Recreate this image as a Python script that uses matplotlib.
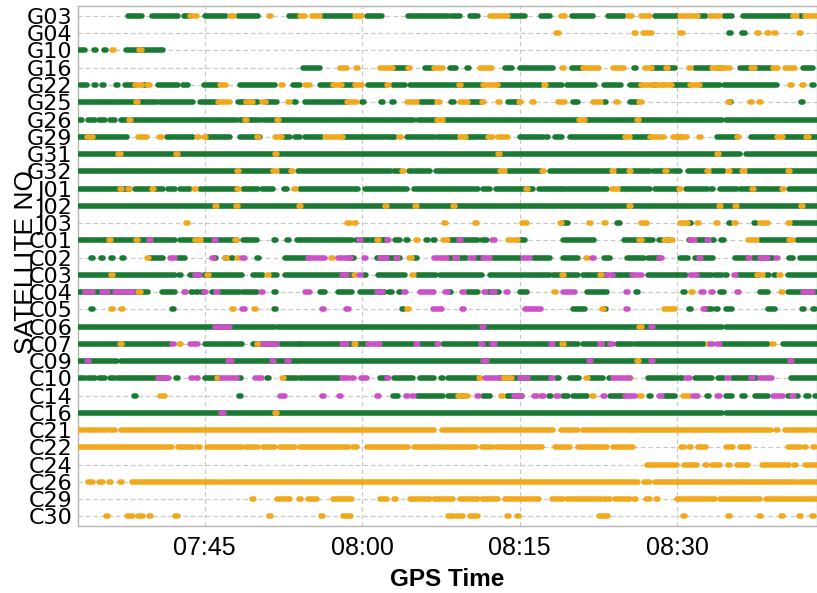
import matplotlib
matplotlib.use("Agg")
import matplotlib.pyplot as plt

# Satellites (top to bottom)
SATS = ["G03", "G04", "G10", "G16", "G22", "G25", "G26", "G29", "G31", "G32",
        "J01", "J02", "J03", "C01", "C02", "C03", "C04", "C05", "C06", "C07",
        "C09", "C10", "C14", "C16", "C21", "C22", "C24", "C26", "C29", "C30"]

# time axis: minutes after 07:30 GPS time
X_MIN, X_MAX = 2.95, 73.3
TICK_MIN = [15, 30, 45, 60]
TICK_LABELS = ["07:45", "08:00", "08:15", "08:30"]

# observation intervals (minutes after 07:30); single numbers = isolated epochs
GREEN = {
    "G03": [(7.7, 9.0), (10.0, 11.5), (11.7, 12.5), (13.0, 13.6), (15.0, 17.0), (18.2, 20.1), (23.0, 23.9),
            (26.3, 29.0), (30.5, 31.9), (34.4, 38.1), (38.4, 39.3), (40.3, 41.0), (44.1, 45.5), (47.0, 47.9),
            (50.0, 52.0), (53.4, 54.9), (57.9, 60.0), (62.2, 62.7), (64.4, 65.2), (66.3, 70.8), (71.7, 72.0)],
    "G04": [65.0, 66.3],
    "G10": [(3.0, 3.6), 4.6, 5.5, 7.6, (7.9, 9.8), (10.0, 11.0)],
    "G16": [(24.4, 26.0), (33.0, 34.3), (36.0, 36.7), (38.4, 38.9), 40.1, (43.6, 44.3), (45.0, 47.4),
            (47.6, 48.2), (50.0, 51.0), 56.0, (57.6, 58.9), (59.1, 59.8), (61.7, 63.1), (63.9, 64.3),
            (66.0, 68.9), (72.0, 72.9)],
    "G22": [(3.1, 3.8), 4.6, 5.3, 6.7, (7.4, 8.4), 9.3, (10.6, 12.5), (12.9, 13.4), (14.9, 16.3),
            (18.4, 21.7), (23.4, 24.1), (26.0, 27.2), (28.1, 29.1), (30.6, 32.2), (32.9, 34.1),
            (34.6, 38.2), (38.4, 41.5), (42.9, 47.0), (47.7, 49.0), (49.5, 52.2), (53.0, 54.6),
            (55.5, 56.5), 57.9, (59.6, 61.2), (62.2, 64.1), (64.4, 69.5), 72.9],
    "G25": [(3.0, 8.4), (8.7, 10.5), (10.8, 13.9), (14.6, 16.2), (18.2, 20.1), (20.8, 21.9), 23.6,
            (24.6, 25.8), (26.0, 28.6), 30.1, 31.9, 32.9, (35.5, 36.8), 38.6, (40.3, 41.4), (43.9, 44.8),
            (50.1, 50.5), 53.1, (55.5, 56.2), 65.0, 71.9],
    "G26": [(3.0, 3.3), (3.9, 4.6), (4.9, 5.5), (6.0, 6.5), (7.0, 7.6), (8.1, 18.1), (18.4, 20.3),
            (20.6, 21.9), (22.2, 24.1), (24.3, 34.9), (35.3, 37.0), (37.9, 50.5), (51.4, 56.2),
            (56.5, 64.3), (64.6, 73.3)],
    "G29": [(3.0, 7.6), (11.4, 13.9), (15.2, 17.4), (18.4, 20.3), (22.5, 23.1), (23.6, 24.1), (24.6, 26.2),
            (28.2, 32.4), 32.7, 33.0, (34.3, 36.8), (37.1, 39.0), (40.1, 41.9), (45.0, 47.2), 47.6,
            (48.4, 49.0), (49.8, 54.9), (55.8, 57.4), 60.3, (63.8, 65.7), (67.0, 69.3), (70.3, 73.3)],
    "G31": [(3.0, 6.8), (7.0, 12.2), (12.5, 21.7), (22.0, 43.0), (43.1, 63.8), (64.1, 66.0), (66.5, 73.3)],
    "G32": [(3.0, 18.1), (18.4, 21.4), (22.2, 23.1), (23.9, 32.7), (33.0, 33.6), 34.6, (34.9, 36.5),
            (37.0, 43.0), (43.9, 47.0), (47.9, 53.6), (54.3, 55.2), (55.8, 57.4), (57.7, 59.3),
            (59.6, 60.3), (61.0, 62.7), (63.3, 64.4), (65.2, 66.0), (66.7, 70.5), (70.8, 73.3)],
    "J01": [(3.0, 7.0), (7.2, 7.9), (8.4, 9.8), (10.3, 11.0), (11.5, 12.2), (12.7, 13.6), (14.6, 18.1),
            (18.7, 20.1), (20.5, 21.5), 22.7, (24.1, 29.3), 29.5, (30.3, 34.3), (34.9, 41.0), (41.5, 42.2),
            (42.7, 46.3), (46.8, 48.9), (49.0, 53.3), (54.6, 57.4), (57.9, 60.0), (60.8, 62.9), 63.3,
            (64.1, 65.7), (66.0, 68.9), (69.1, 69.8), (70.6, 73.3)],
    "J02": [(3.0, 16.0), (16.3, 18.2), (18.4, 23.9), (24.3, 32.2), (32.5, 35.0), (35.3, 38.6), (38.9, 55.3),
            (55.7, 63.9), (64.3, 65.5), (65.8, 71.7), (72.0, 73.3)],
    "J03": [(49.1, 49.6), 54.4, 61.2, 65.0, 67.4, (71.0, 73.3)],
    "C01": [(3.0, 12.2), (12.7, 14.6), (14.9, 18.1), (18.7, 20.0), 21.7, 22.9, (23.8, 29.0), 29.5,
            (29.9, 32.4), (33.1, 33.6), 34.3, 36.2, 36.8, (38.4, 41.0), (41.4, 41.9), (45.0, 45.5),
            (49.1, 51.7), 52.0, (54.9, 57.4), 57.6, 58.4, 59.1, 61.2, (61.9, 62.9), 63.4, 64.3,
            (67.9, 70.5), (71.4, 73.3)],
    "C02": [4.3, 5.2, 6.2, 7.2, (9.8, 11.0), (12.5, 13.1), 16.0, 17.0, 17.6, 20.1, (22.7, 24.8), 28.9, 29.1,
            (31.4, 33.6), (34.9, 35.2), (38.2, 40.0), (40.8, 41.5), (42.4, 45.0), (46.3, 47.9),
            (49.1, 50.5), (53.0, 53.6), (55.2, 56.8), (57.2, 58.4), (60.3, 61.0), (61.7, 63.4),
            (65.5, 66.7), (67.2, 69.1), (70.6, 71.0), (71.7, 73.3)],
    "C03": [(3.0, 12.2), 12.7, (13.6, 14.6), (14.9, 18.6), (19.6, 20.6), (21.4, 21.9), (22.7, 29.1), 30.3,
            (31.5, 34.1), (35.2, 37.0), (37.4, 41.4), (42.2, 46.7), (46.8, 47.9), (48.2, 49.0),
            (49.3, 50.5), (51.0, 51.4), (51.5, 53.3), (53.9, 55.7), (57.2, 60.0), (60.1, 60.8),
            (62.0, 63.3), (63.6, 64.3), 64.6, (65.8, 67.8), (68.4, 68.7), 69.3, (70.5, 73.3)],
    "C04": [(3.0, 9.6), (10.9, 12.2), 13.8, 14.3, 14.8, 15.8, (16.5, 18.4), (18.7, 20.0), 21.7, (26.0, 26.5),
            (27.7, 29.0), (29.8, 32.2), 32.7, 33.6, 38.4, (40.0, 41.0), (42.0, 43.0), (45.0, 45.7),
            (51.4, 53.3), 56.2, 60.6, (64.1, 64.4), (67.9, 68.6), (70.5, 73.3)],
    "C05": [4.3, 12.0, 21.7, 33.9, (50.1, 51.2), 53.1, 61.2, (62.7, 63.3), 63.8, (64.6, 65.2),
            (68.6, 69.3), 72.0, 73.0],
    "C06": [(3.0, 21.7), (22.0, 64.3), (64.6, 73.3)],
    "C07": [(3.0, 11.7), (15.0, 18.6), (19.6, 21.9), (22.2, 24.1), (24.1, 29.1), (29.6, 30.6), (31.7, 34.9),
            (35.5, 37.0), (37.7, 41.0), (41.5, 42.4), (42.7, 46.7), (46.8, 47.9), (48.4, 50.5),
            (51.0, 52.4), (53.0, 53.5), (54.3, 55.7), (56.0, 60.0), (60.1, 62.5), (64.3, 65.7),
            (65.8, 68.6), (70.1, 73.3)],
    "C09": [(3.0, 6.7), (7.0, 56.1), (56.5, 73.3)],
    "C10": [(3.0, 3.6), (3.9, 4.6), (4.9, 5.5), (6.0, 6.5), (6.8, 11.4), 12.4, (15.0, 16.5), 18.4, 21.0,
            (22.7, 23.8), (24.1, 27.9), (31.7, 32.4), (33.0, 34.8), (35.5, 36.8), 37.6, (38.2, 41.0),
            (43.1, 44.8), (45.0, 47.9), 48.6, (49.8, 50.6), (51.7, 52.9), 53.6, (57.2, 60.0),
            (60.3, 60.5), (61.7, 63.3), (63.9, 64.4), (65.2, 67.6), (70.8, 73.3)],
    "C14": [8.4, 18.4, (32.9, 33.4), (35.2, 37.7), (38.2, 39.0), 39.6, (41.5, 42.2), (43.8, 45.2), 47.9,
            (49.1, 49.6), (50.1, 51.4), (53.6, 54.9), 57.4, (58.7, 59.8), 62.9, (64.6, 65.2), 66.3,
            (67.4, 68.6), 70.6, 71.4, 72.4, 73.2],
    "C16": [(3.0, 21.7), (22.0, 64.3), (64.6, 73.3)],
}

ORANGE = {
    "G03": [(13.6, 14.3), (17.4, 17.8), 21.2, (24.1, 24.6), (25.2, 26.0), (29.3, 30.0), (42.2, 43.9),
            (48.9, 49.3), (55.3, 55.7), (56.5, 57.4), (60.3, 62.0), (63.1, 64.1), (71.0, 71.4), (72.2, 73.3)],
    "G04": [48.6, 56.0, (56.7, 57.6), 60.4, 67.7, 68.6, 69.3, 71.7],
    "G10": [6.3, 8.9],
    "G16": [(27.9, 28.6), 29.5, (31.7, 32.9), 34.5, (36.8, 37.7), (41.2, 42.4), 49.1, (51.0, 52.5),
            (53.9, 54.9), (56.9, 57.6), (58.9, 59.1), 61.2, (63.3, 65.0), (67.0, 67.4), (69.1, 69.6),
            (70.3, 71.2)],
    "G22": [(8.4, 9.0), (9.5, 9.8), (16.5, 17.0), 22.4, (24.6, 25.0), (27.2, 28.1), (29.3, 30.0), 32.5,
            39.3, (41.5, 42.9), 47.4, (56.5, 58.7), (58.7, 59.5), (61.2, 62.2), 70.8, 72.0],
    "G25": [8.6, (16.3, 17.4), (18.9, 19.6), (20.5, 20.8), (22.9, 23.1), (28.6, 29.5), (34.3, 35.2),
            (37.1, 37.4), (39.3, 40.1), 41.5, 43.0, 45.0, 46.3, (48.6, 49.3), (52.0, 52.7), 54.3, 56.5,
            64.9, 67.0, 67.9],
    "G26": [7.9, 18.9, 22.0, (37.1, 37.7), (50.6, 51.2), 56.3],
    "G29": [(3.8, 4.4), (8.7, 9.5), 10.8, 14.4, 15.0, 20.1, (21.7, 22.4), (26.5, 28.2), 33.6, (39.3, 39.9),
            (42.0, 42.5), (42.9, 43.9), (55.0, 55.5), (57.4, 58.7), (59.6, 60.9), 62.2, 65.8,
            (69.5, 70.1), 72.4],
    "G31": [6.9, 12.4, 21.8, 43.0, 63.9],
    "G32": [18.2, (21.5, 21.9), 23.3, 33.9, (43.1, 43.6), 47.2, 53.9, 55.5, 58.9, 62.9, 64.9, 66.3, 70.6],
    "J01": [7.0, 7.8, 10.1, 14.1, 18.2, 23.6, 45.7, (53.8, 54.4), 60.3, 67.2, 70.1],
    "J02": [16.1, 18.1, 24.1, 32.3, 35.1, 38.7, 55.5, 64.1, 65.6, 71.9],
    "J03": [13.3, 28.7, 29.3, 37.9, 40.8, (45.2, 45.7), 48.9, 51.7, 53.1, (56.5, 57.1), (60.3, 61.0), 62.0,
            63.8, 65.5, (67.9, 68.6), 70.6],
    "C01": [6.0, 8.6, 14.2, 14.6, 18.0, 31.5, 35.2, (37.7, 38.2), (43.9, 44.8), 56.5, (58.7, 59.6),
            (66.7, 67.6), (70.6, 71.0)],
    "C02": [9.6, 17.0, 18.2, 27.1, 34.6, 38.9, 51.4],
    "C03": [6.2, 15.3, 21.0, 29.3, 34.8, 49.1, 52.7, (67.6, 68.2), 69.8],
    "C04": [8.8, 13.1, 48.4, 61.4, 70.0],
    "C05": [6.2, 7.1, 17.7, 19.8, 34.4, 52.9, (58.7, 59.8)],
    "C06": [56.5],
    "C07": [7.0, 12.7, 20.1, 29.3, 49.1, 52.7, 63.0, 69.1],
    "C09": [56.3],
    "C10": [16.3, 22.5, 41.2, (43.4, 44.3), 51.4, 55.5],
    "C14": [(10.8, 11.2), (39.1, 40.1), 43.3, 47.0, 52.0, 56.5, (60.5, 61.2)],
    "C16": [21.8],
    "C21": [(3.0, 3.6), (3.9, 4.8), (5.0, 5.7), (6.0, 6.5), (7.0, 36.8), (37.6, 48.2), (48.9, 50.5),
            (51.0, 68.9), 69.5, (70.3, 72.4), (72.7, 73.3)],
    "C22": [(3.0, 11.9), (12.5, 13.9), (14.3, 14.6), (15.2, 18.6), (18.9, 20.1), (20.6, 21.7), (22.2, 23.6),
            (24.1, 28.7), (29.1, 29.5), (30.5, 34.4), (34.9, 37.4), (37.7, 38.2), (38.4, 40.8),
            (41.4, 42.4), (42.7, 43.3), (43.6, 47.1), (48.4, 49.8), (50.5, 53.3), (53.9, 55.8), 60.5,
            61.2, (62.0, 62.7), (64.6, 65.3), (66.0, 66.8), (70.5, 71.7), 72.2, 73.0],
    "C24": [(57.1, 60.0), (60.6, 61.9), 62.7, (63.3, 64.1), 64.9, (65.7, 66.7), (68.1, 70.6), 71.2,
            (72.2, 73.3)],
    "C26": [(3.9, 4.4), (4.9, 5.3), 6.0, 7.0, (8.1, 16.7), (16.9, 23.4), (23.6, 27.9), (28.1, 30.1),
            (30.3, 34.1), (34.3, 43.1), (43.3, 47.4), (47.6, 56.3), (56.8, 57.4), (57.9, 71.4),
            (71.7, 73.3)],
    "C29": [19.6, (21.9, 23.1), 24.1, (24.8, 25.7), (27.2, 29.0), (31.7, 32.4), 33.1, (34.6, 36.5),
            (36.8, 38.6), (39.3, 41.0), (41.4, 42.9), (43.6, 44.8), (45.0, 46.8), (48.1, 49.1),
            (49.5, 52.7), (53.0, 53.6), (54.1, 55.5), 56.0, (57.0, 57.4), 58.1, (60.0, 60.8),
            (61.0, 63.6), (64.1, 67.9), (68.4, 73.3)],
    "C30": [5.7, (7.6, 8.2), (8.7, 9.1), 9.8, (12.2, 12.5), 21.2, 26.2, (28.2, 28.9), (38.2, 38.7),
            (39.0, 39.6), (40.3, 41.0), 43.9, 44.8, (52.5, 53.4), 60.6, 64.9, 67.9, 70.0, 71.7, 72.9],
}

MAGENTA = {
    "C01": [9.8, 16.0, 29.8, 32.5, 39.3, 42.5, (61.2, 61.7), 62.9],
    "C02": [(11.7, 12.2), 15.8, 18.7, (24.8, 26.5), (27.7, 28.9), 30.3, (31.7, 32.4), 33.3, (36.8, 38.1),
            38.9, (40.3, 40.6), (41.5, 42.2), (45.3, 46.0), 52.0, 58.4, 62.2, 66.8, (67.9, 68.6), 69.5],
    "C03": [(14.1, 14.6), (28.1, 28.6), 29.8, (53.3, 53.9), (55.7, 56.2), 56.5, (61.2, 61.9), 65.5],
    "C04": [(3.6, 4.4), (5.2, 5.8), (6.5, 7.0), (7.4, 8.2), 13.1, 15.0, 16.2, 20.5, (24.6, 25.0),
            (31.4, 32.0), 34.1, (35.5, 36.8), (37.9, 38.2), 39.6, 41.7, 42.5, 43.8, (49.1, 50.3), 55.2,
            62.4, 63.3, 65.8, (72.0, 72.9)],
    "C05": [18.7, 26.3, 28.6, (36.7, 37.6), 39.6, (45.5, 47.0), 55.2, 62.5],
    "C06": [(16.0, 17.4), 41.5, 57.6],
    "C07": [12.0, (13.6, 14.4), (20.6, 21.9), (28.1, 28.6), (30.6, 31.7), 35.2, 37.2, 41.4, 42.5, 48.1,
            52.7, (53.6, 53.9), (63.1, 63.4), (63.8, 64.1)],
    "C09": [3.9, (17.2, 17.6), 21.5, 22.9, (41.5, 41.9), 51.7, 57.6, 70.8],
    "C10": [(10.6, 11.4), 11.5, 13.8, 14.3, (16.7, 18.1), (19.8, 20.5), (28.1, 28.7), 29.1, (29.9, 30.5),
            32.5, (41.7, 43.0), (45.0, 45.8), 48.1, (53.9, 55.5), (60.8, 61.2), 64.8, 67.1, (67.9, 69.0)],
    "C14": [(22.2, 22.7), 26.3, 27.9, 31.5, 34.3, 34.8, 41.0, (44.5, 45.2), 46.5, 47.2, 48.6, (52.9, 53.1),
            (55.0, 56.0), 58.4, (61.5, 62.0), (63.8, 64.1), (69.1, 70.1), 71.0],
    "C16": [16.7],
}

COLORS = {"green": "#1a7a33", "orange": "#f2a81c", "magenta": "#cc50c8"}

plt.rcParams["font.family"] = ["Liberation Sans", "DejaVu Sans"]

fig = plt.figure(figsize=(8.17, 5.93), dpi=100)
ax = fig.add_axes([0.0955, 0.113, 0.9045, 0.877])


def segments(items):
    out = []
    for it in items:
        if isinstance(it, tuple):
            out.append(it)
        else:
            out.append((it - 0.1, it + 0.1))
    return out


for data, cname in [(GREEN, "green"), (ORANGE, "orange"), (MAGENTA, "magenta")]:
    ys, x0, x1 = [], [], []
    for sat, items in data.items():
        row = SATS.index(sat)
        for a, b in segments(items):
            ys.append(row)
            x0.append(a)
            x1.append(b)
    lc = ax.hlines(ys, x0, x1, colors=COLORS[cname], linewidth=4.0, zorder=3)
    lc.set_capstyle("round")

ax.set_xlim(X_MIN, X_MAX)
ax.set_ylim(len(SATS) - 1 + 0.55, -0.58)
ax.set_yticks(range(len(SATS)))
ax.set_yticklabels(SATS, fontsize=16, family=["DejaVu Sans"])
ax.set_xticks(TICK_MIN)
ax.set_xticklabels(TICK_LABELS, fontsize=18)
ax.tick_params(axis="both", length=0, colors="black")
ax.tick_params(axis="y", pad=4)
ax.tick_params(axis="x", pad=7)

ax.grid(True, color="#c8c8c8", linestyle=(0, (3.5, 2.5)), linewidth=0.9)
ax.set_axisbelow(True)
for sp in ax.spines.values():
    sp.set_color("#b4b4b4")
    sp.set_linewidth(1.0)

ax.set_xlabel("GPS Time", fontsize=17.5, fontweight="bold", labelpad=6)
ax.set_ylabel("SATELLITE NO.", fontsize=19)
ax.yaxis.set_label_coords(-0.054, 0.515)

fig.savefig("out.png", dpi=100)
